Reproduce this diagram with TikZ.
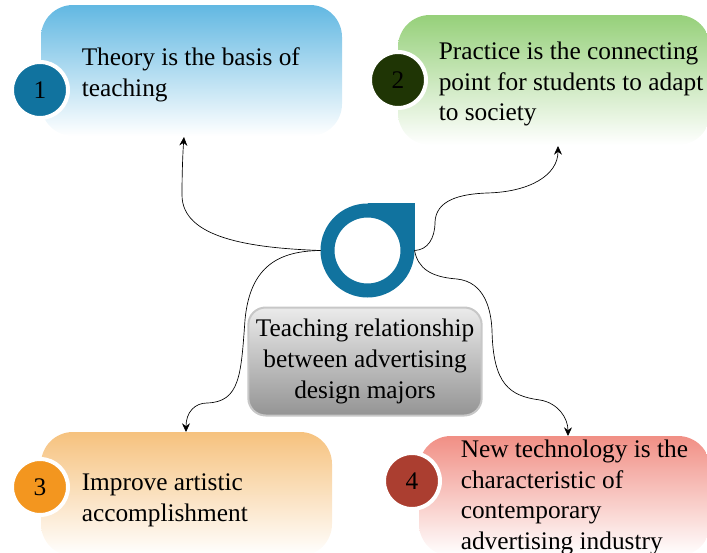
\documentclass[tikz,border=0pt]{standalone}
\usepackage{fontspec}
\setmainfont{Liberation Serif}
\usetikzlibrary{arrows.meta}

\definecolor{hubblue}{HTML}{11739F}
\definecolor{theorytop}{HTML}{62B8E2}
\definecolor{practicetop}{HTML}{96D07A}
\definecolor{practicedark}{HTML}{1F3505}
\definecolor{improvetop}{HTML}{F6C27E}
\definecolor{improvedark}{HTML}{F3961F}
\definecolor{techtop}{HTML}{F18F85}
\definecolor{techdark}{HTML}{AB3E30}

\begin{document}
\begin{tikzpicture}[x=0.75pt,y=-0.75pt,
    every node/.append style={font=\fontsize{19}{23}\selectfont}]

\useasboundingbox (0,0) rectangle (707,553);
\clip (0,0) rectangle (707,553);

% coloured boxes
\begin{scope}[
    every node/.style={
        rectangle,
        rounded corners=24pt,
        bottom color=white}]

    \node[top color=theorytop, minimum width=225.75pt, minimum height=98.25pt] (theory) at (191.5,70.5) {};
    \node[top color=practicetop, minimum width=234pt, minimum height=97.5pt] (practice) at (554,80) {};
    \node[top color=improvetop, minimum width=218.25pt, minimum height=93pt] (improve) at (186.5,494) {};
    \node[top color=techtop, minimum width=218.25pt, minimum height=90pt] (tech) at (564.5,496) {};
\end{scope}

% texts of the boxes
\begin{scope}[
    every node/.style={
        font=\fontsize{19}{23}\selectfont,
        anchor=west,
        align=left,
        inner sep=0pt}]

    \node (theorytext) at (81.5,75) {Theory is the basis of\\teaching};
    \node (practicetext) at (438.5,84) {Practice is the connecting\\point for students to adapt\\to society};
    \node (improvetext) at (81.5,500) {Improve artistic\\accomplishment};
    \node (techtext) at (460.5,497.5) {New technology is the\\characteristic of\\contemporary\\advertising industry};
\end{scope}

% numbers
\begin{scope}[
    every node/.style={
        font=\fontsize{19}{23}\selectfont,
        circle,
        draw=white,
        line width=3pt,
        minimum size=42pt,
        inner sep=0pt}]

    \node[fill=hubblue] (one) at (40,90) {1};
    \node[fill=practicedark] (two) at (398,80) {2};
    \node[fill=improvedark] (three) at (40,487) {3};
    \node[fill=techdark] (four) at (412,481) {4};
\end{scope}

% centre
\fill[hubblue] (367.5,203) rectangle (414.5,250.5);
\node[circle, draw=hubblue, fill=white, line width=10.5pt, minimum size=60pt, inner sep=0pt] (hub) at (367.5,250.5) {};

\node[rectangle, rounded corners=13pt, draw=black!22, line width=1.5pt,
      top color=black!8, bottom color=black!42,
      minimum width=175pt, minimum height=81pt, align=center, inner sep=0pt] (topic) at (365,361.5)
      {Teaching relationship\\between advertising\\design majors};

% connectors
\coordinate (tipone) at (184,137);
\coordinate (tiptwo) at (558,146);
\coordinate (tipthree) at (186,432);
\coordinate (tipfour) at (568,436);

\begin{scope}[>={Stealth[black,length=6.5pt,width=6pt]}, line width=0.5pt]

    \draw [->] (hub.west) .. controls (250,248) and (182,238) .. (182,195) .. controls (182,170) and (183,150) .. (tipone);
    \draw [->] (hub.east) .. controls (428,250) and (435,238) .. (435,222) .. controls (436,200) and (460,194) .. (487,193)
        .. controls (530,192) and (558,175) .. (tiptwo);
    \draw [->] (hub.west) .. controls (280,251) and (250,265) .. (245,320) .. controls (241,375) and (240,402) .. (207,403)
        .. controls (195,403) and (186,412) .. (tipthree);
    \draw [->] (hub.east) .. controls (418,268) and (430,277) .. (457,279) .. controls (485,282) and (491,310) .. (492,330)
        .. controls (493,385) and (510,396) .. (540,400) .. controls (558,403) and (568,418) .. (tipfour);
\end{scope}
\end{tikzpicture}
\end{document}
